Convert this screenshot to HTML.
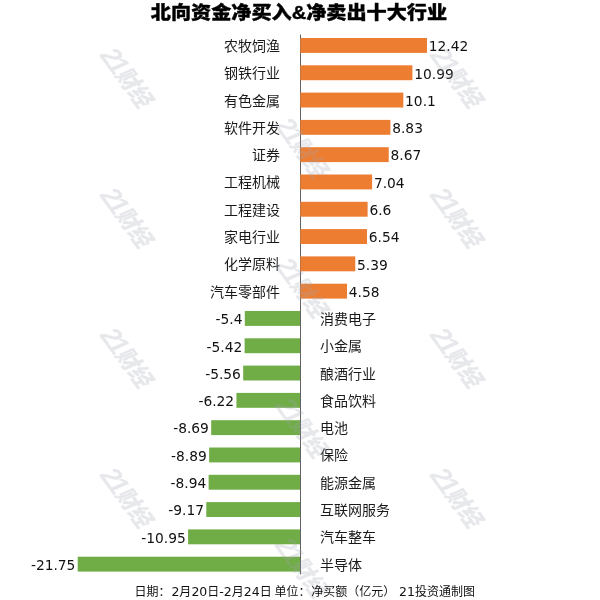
<!DOCTYPE html>
<html><head><meta charset="utf-8"><style>
html,body{margin:0;padding:0;background:#fff;}
#c{position:relative;width:600px;height:600px;overflow:hidden;background:#fff;font-family:"Liberation Sans","Noto Sans CJK SC",sans-serif;color:#1a1a1a;}
.t{position:absolute;left:0;width:600px;top:0px;text-align:center;font-size:18.5px;font-weight:900;line-height:26px;color:#000;letter-spacing:0px;transform:scaleX(1.088);transform-origin:312px 0;-webkit-text-stroke:0.35px #000;}
svg{position:absolute;left:0;top:0;}
.l{position:absolute;font-size:14px;line-height:20px;white-space:nowrap;color:#1a1a1a;}
.v{position:absolute;font-family:"DejaVu Sans","Liberation Sans",sans-serif;font-size:13.8px;line-height:20px;white-space:nowrap;color:#111;}
.f{position:absolute;left:134.4px;top:583px;font-family:"DejaVu Sans","Noto Sans CJK SC",sans-serif;font-size:12px;line-height:18px;color:#111;white-space:nowrap;}
.f b{font-weight:normal;font-size:12.5px;}
.f i{font-style:normal;display:inline-block;}
.w{position:absolute;width:120px;height:30px;margin:-15.8px 0 0 -59px;text-align:center;font-size:21px;line-height:30px;font-weight:900;color:rgba(160,165,175,0.25);transform:rotate(54deg) skewX(-12deg) scale(1.02,1.12);white-space:nowrap;}
.w b{font-size:25px;letter-spacing:-2.5px;margin-right:2px;font-weight:700;line-height:30px;vertical-align:-1px;}
</style></head><body><div id="c">

<div class="t">北向资金净买入&amp;净卖出十大行业</div>
<svg width="600" height="600" viewBox="0 0 600 600">
<rect x="300" y="34.5" width="1" height="540" fill="#626262"/>
<rect x="300.3" y="38.00" width="126.68" height="14.9" fill="#ed7d31"/>
<rect x="300.3" y="65.30" width="112.10" height="14.9" fill="#ed7d31"/>
<rect x="300.3" y="92.60" width="103.02" height="14.9" fill="#ed7d31"/>
<rect x="300.3" y="119.90" width="90.07" height="14.9" fill="#ed7d31"/>
<rect x="300.3" y="147.20" width="88.43" height="14.9" fill="#ed7d31"/>
<rect x="300.3" y="174.50" width="71.81" height="14.9" fill="#ed7d31"/>
<rect x="300.3" y="201.80" width="67.32" height="14.9" fill="#ed7d31"/>
<rect x="300.3" y="229.10" width="66.71" height="14.9" fill="#ed7d31"/>
<rect x="300.3" y="256.40" width="54.98" height="14.9" fill="#ed7d31"/>
<rect x="300.3" y="283.70" width="46.72" height="14.9" fill="#ed7d31"/>
<rect x="244.81" y="311.00" width="55.19" height="14.9" fill="#70ad47"/>
<rect x="244.61" y="338.30" width="55.39" height="14.9" fill="#70ad47"/>
<rect x="243.18" y="365.60" width="56.82" height="14.9" fill="#70ad47"/>
<rect x="236.43" y="392.90" width="63.57" height="14.9" fill="#70ad47"/>
<rect x="211.19" y="420.20" width="88.81" height="14.9" fill="#70ad47"/>
<rect x="209.14" y="447.50" width="90.86" height="14.9" fill="#70ad47"/>
<rect x="208.63" y="474.80" width="91.37" height="14.9" fill="#70ad47"/>
<rect x="206.28" y="502.10" width="93.72" height="14.9" fill="#70ad47"/>
<rect x="188.09" y="529.40" width="111.91" height="14.9" fill="#70ad47"/>
<rect x="77.71" y="556.70" width="222.29" height="14.9" fill="#70ad47"/>
</svg>
<div class="l" style="right:320px;top:36.0px">农牧饲渔</div>
<div class="v" style="left:428.8px;top:36.2px">12.42</div>
<div class="l" style="right:320px;top:63.2px">钢铁行业</div>
<div class="v" style="left:414.2px;top:63.5px">10.99</div>
<div class="l" style="right:320px;top:90.5px">有色金属</div>
<div class="v" style="left:405.1px;top:90.8px">10.1</div>
<div class="l" style="right:320px;top:117.9px">软件开发</div>
<div class="v" style="left:392.2px;top:118.2px">8.83</div>
<div class="l" style="right:320px;top:145.1px">证券</div>
<div class="v" style="left:390.5px;top:145.4px">8.67</div>
<div class="l" style="right:320px;top:172.4px">工程机械</div>
<div class="v" style="left:373.9px;top:172.8px">7.04</div>
<div class="l" style="right:320px;top:199.8px">工程建设</div>
<div class="v" style="left:369.4px;top:200.1px">6.6</div>
<div class="l" style="right:320px;top:227.0px">家电行业</div>
<div class="v" style="left:368.8px;top:227.3px">6.54</div>
<div class="l" style="right:320px;top:254.3px">化学原料</div>
<div class="v" style="left:357.1px;top:254.6px">5.39</div>
<div class="l" style="right:320px;top:281.7px">汽车零部件</div>
<div class="v" style="left:348.8px;top:282.0px">4.58</div>
<div class="l" style="left:320px;top:308.9px">消费电子</div>
<div class="v" style="right:357.5px;top:309.2px">-5.4</div>
<div class="l" style="left:320px;top:336.2px">小金属</div>
<div class="v" style="right:357.7px;top:336.6px">-5.42</div>
<div class="l" style="left:320px;top:363.6px">酿酒行业</div>
<div class="v" style="right:359.1px;top:363.9px">-5.56</div>
<div class="l" style="left:320px;top:390.9px">食品饮料</div>
<div class="v" style="right:365.9px;top:391.2px">-6.22</div>
<div class="l" style="left:320px;top:418.1px">电池</div>
<div class="v" style="right:391.1px;top:418.4px">-8.69</div>
<div class="l" style="left:320px;top:445.4px">保险</div>
<div class="v" style="right:393.2px;top:445.8px">-8.89</div>
<div class="l" style="left:320px;top:472.8px">能源金属</div>
<div class="v" style="right:393.7px;top:473.1px">-8.94</div>
<div class="l" style="left:320px;top:500.1px">互联网服务</div>
<div class="v" style="right:396.0px;top:500.4px">-9.17</div>
<div class="l" style="left:320px;top:527.4px">汽车整车</div>
<div class="v" style="right:414.2px;top:527.7px">-10.95</div>
<div class="l" style="left:320px;top:554.7px">半导体</div>
<div class="v" style="right:524.6px;top:555.0px">-21.75</div>
<div class="w" style="left:127.3px;top:79px"><b>21</b>财经</div>
<div class="w" style="left:127.3px;top:219px"><b>21</b>财经</div>
<div class="w" style="left:127.3px;top:359px"><b>21</b>财经</div>
<div class="w" style="left:127.3px;top:499px"><b>21</b>财经</div>
<div class="w" style="left:457.3px;top:79px"><b>21</b>财经</div>
<div class="w" style="left:457.3px;top:219px"><b>21</b>财经</div>
<div class="w" style="left:457.3px;top:359px"><b>21</b>财经</div>
<div class="w" style="left:457.3px;top:499px"><b>21</b>财经</div>
<div class="w" style="left:302px;top:149px"><b>21</b>财经</div>
<div class="w" style="left:302px;top:289px"><b>21</b>财经</div>
<div class="w" style="left:302px;top:429px"><b>21</b>财经</div>
<div class="w" style="left:302px;top:569px"><b>21</b>财经</div>
<div class="f"><i>日期：</i><i style="margin-left:1px"><b>2</b>月<b>20</b>日<b>-2</b>月<b>24</b>日</i> <i style="margin-left:-1px">单位：</i><i style="margin-left:0.6px">净买额（亿元）</i> <i><b>21</b>投资通制图</i></div>
</div></body></html>
